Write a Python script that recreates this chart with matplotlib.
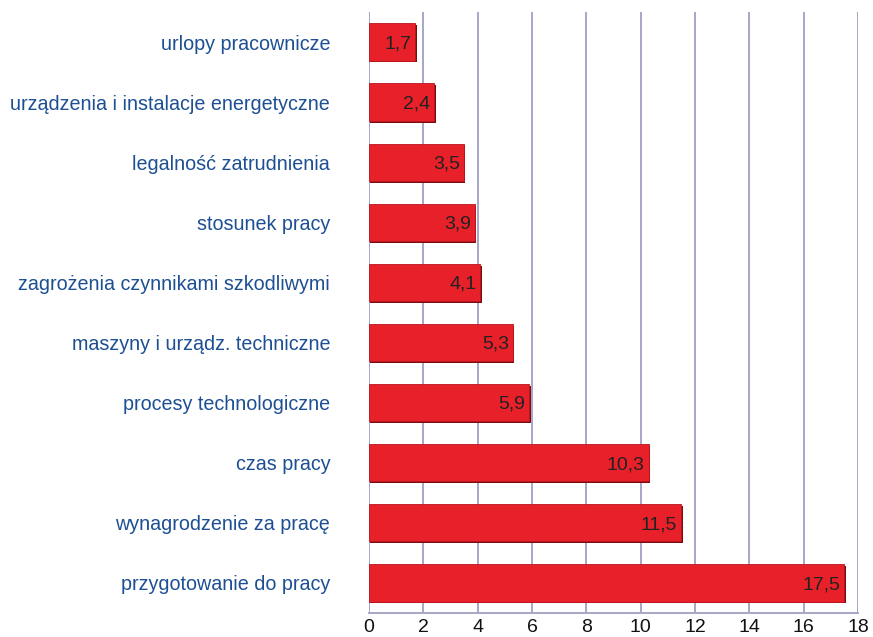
import matplotlib
matplotlib.use("Agg")
from matplotlib import pyplot as plt

categories = [
    "urlopy pracownicze",
    "urządzenia i instalacje energetyczne",
    "legalność zatrudnienia",
    "stosunek pracy",
    "zagrożenia czynnikami szkodliwymi",
    "maszyny i urządz. techniczne",
    "procesy technologiczne",
    "czas pracy",
    "wynagrodzenie za pracę",
    "przygotowanie do pracy",
]
values = [1.7, 2.4, 3.5, 3.9, 4.1, 5.3, 5.9, 10.3, 11.5, 17.5]
value_labels = ["1,7", "2,4", "3,5", "3,9", "4,1", "5,3", "5,9", "10,3", "11,5", "17,5"]
x_ticks = [0, 2, 4, 6, 8, 10, 12, 14, 16, 18]

plt.rcParams["font.family"] = ["Liberation Sans", "DejaVu Sans"]

fig = plt.figure(figsize=(8.73, 6.37), dpi=100)
ax = fig.add_axes([0.4227, 0.0377, 0.5601, 0.9435])

pos = list(range(len(categories)))
# cień pod słupkami
ax.barh([p + 0.03 for p in pos], values, height=0.62, left=0.05,
        color="#7a0c10", zorder=2)
ax.barh(pos, values, height=0.62, color="#e8202a", edgecolor="#b8161c",
        linewidth=0.6, zorder=3)

for p, v, lab in zip(pos, values, value_labels):
    ax.text(v - 0.15, p + 0.03, lab, ha="right", va="center", fontsize=14,
            color="#222222", zorder=4)

ax.set_ylim(len(categories) - 0.5, -0.5)
ax.set_xlim(0, 18)
ax.set_xticks(x_ticks)
ax.set_xticklabels([str(t) for t in x_ticks], fontsize=14, color="#111111")
ax.set_yticks(pos)
ax.set_yticklabels(categories, fontsize=14.2, color="#1d4f93")

ax.grid(axis="x", color="#a6a6c8", linewidth=1.4, zorder=0)
ax.set_axisbelow(True)
for side in ["top", "right", "left"]:
    ax.spines[side].set_visible(False)
ax.spines["bottom"].set_color("#a6a6c8")
ax.spines["bottom"].set_linewidth(1.4)
ax.tick_params(axis="both", length=0)
ax.tick_params(axis="y", pad=28)
ax.tick_params(axis="x", pad=4)

fig.savefig("out.png", dpi=100)
